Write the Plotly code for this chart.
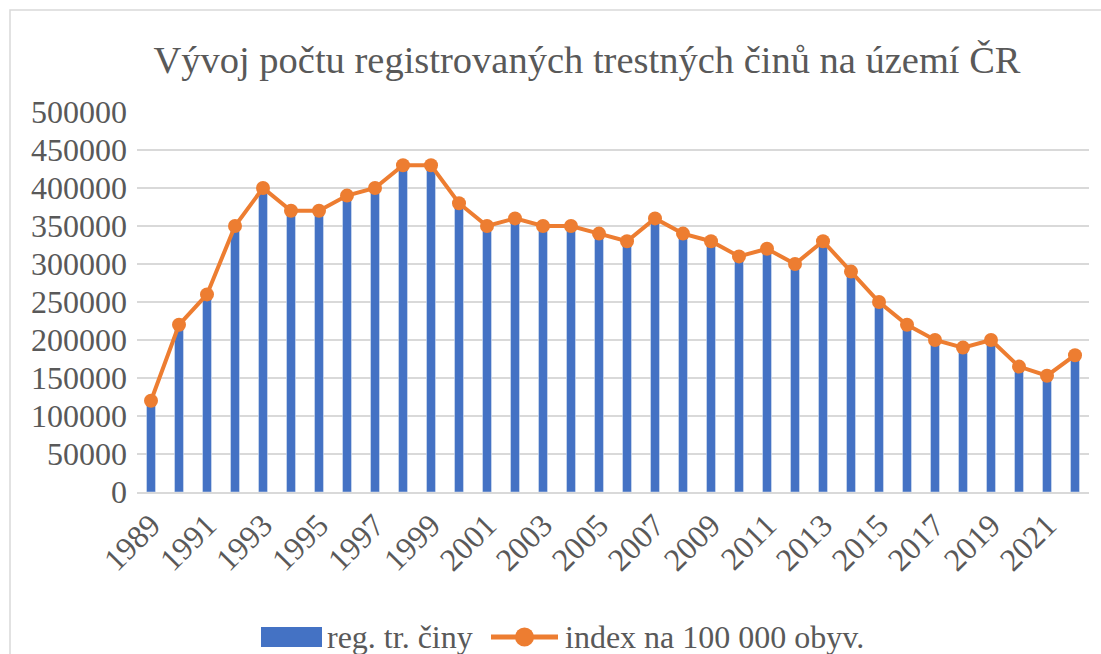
import plotly.graph_objects as go

years = [str(y) for y in range(1989, 2023)]
reg_cases = [120000, 218000, 258000, 348000, 398000, 368000, 368000, 388000, 398000, 428000, 428000,
             378000, 348000, 358000, 348000, 348000, 338000, 328000, 358000, 338000, 328000, 308000,
             318000, 298000, 328000, 288000, 248000, 218000, 198000, 188000, 198000, 163000, 151000, 178000]
index_100k = [120000, 220000, 260000, 350000, 400000, 370000, 370000, 390000, 400000, 430000, 430000,
              380000, 350000, 360000, 350000, 350000, 340000, 330000, 360000, 340000, 330000, 310000,
              320000, 300000, 330000, 290000, 250000, 220000, 200000, 190000, 200000, 165000, 153000, 180000]
tick_years = [str(y) for y in range(1989, 2023, 2)]
series_names = ["reg. tr. činy", "index na 100 000 obyv."]

title = "Vývoj počtu registrovaných trestných činů na území ČR"
font = "Liberation Serif"
grey = "#595959"
blue = "#4472C4"
orange = "#ED7D31"
tick_size = 32

L, R, T, B = 137, 12, 112, 162
W, H = 1101, 654
pw, ph = W - L - R, H - T - B


def px(x):
    return (x - L) / pw


def py(y):
    return (H - B - y) / ph


fig = go.Figure()
fig.add_trace(go.Bar(x=years, y=reg_cases, name=series_names[0], marker_color=blue, showlegend=False))
fig.add_trace(go.Scatter(x=years, y=index_100k, name=series_names[1], mode="lines+markers",
                         line=dict(color=orange, width=4), marker=dict(size=14, color=orange),
                         showlegend=False))

leg_y = 637
shapes = [
    dict(type="rect", xref="paper", yref="paper", x0=px(10), x1=px(1200), y0=py(700), y1=py(10),
         line=dict(color="#D9D9D9", width=1.5), layer="below"),
    dict(type="rect", xref="paper", yref="paper", x0=px(261), x1=px(322), y0=py(647), y1=py(627),
         fillcolor=blue, line=dict(width=0)),
    dict(type="line", xref="paper", yref="paper", x0=px(491), x1=px(558), y0=py(leg_y), y1=py(leg_y),
         line=dict(color=orange, width=5)),
    dict(type="circle", xref="paper", yref="paper", x0=px(515), x1=px(534), y0=py(leg_y + 9.5),
         y1=py(leg_y - 9.5), fillcolor=orange, line=dict(width=0)),
]
annotations = [
    dict(text=series_names[0], xref="paper", yref="paper", x=px(325), y=py(leg_y), xanchor="left",
         yanchor="middle", showarrow=False, font=dict(size=32, color=grey, family=font)),
    dict(text=series_names[1], xref="paper", yref="paper", x=px(563), y=py(leg_y), xanchor="left",
         yanchor="middle", showarrow=False, font=dict(size=32, color=grey, family=font)),
]

fig.update_layout(
    width=W, height=H,
    margin=dict(l=L, r=R, t=T, b=B, autoexpand=False),
    paper_bgcolor="white", plot_bgcolor="white",
    font=dict(family=font, color=grey, size=tick_size),
    bargap=0.68,
    title=dict(text=title, x=px(587), xref="paper", xanchor="center", y=1 - 60 / H, yanchor="middle",
               font=dict(size=38.5, color=grey, family=font)),
    showlegend=False,
    shapes=shapes,
    annotations=annotations,
)
fig.update_xaxes(type="category", range=[-0.5, len(years) - 0.5], tickmode="array", tickvals=tick_years,
                 ticktext=tick_years, tickangle=-45, showgrid=False, showline=True, linecolor="#D9D9D9",
                 linewidth=1.5, ticks="", tickfont=dict(size=tick_size, color=grey, family=font))
fig.update_yaxes(range=[0, 500000], dtick=50000, tickformat="d", showgrid=True, gridcolor="#D9D9D9",
                 gridwidth=1.5, zeroline=False, showline=False, ticks="",
                 tickfont=dict(size=tick_size, color=grey, family=font), ticklabelstandoff=9)

fig.write_html("out.html", config={"displayModeBar": False},
               post_script="document.body.style.margin='0';")
